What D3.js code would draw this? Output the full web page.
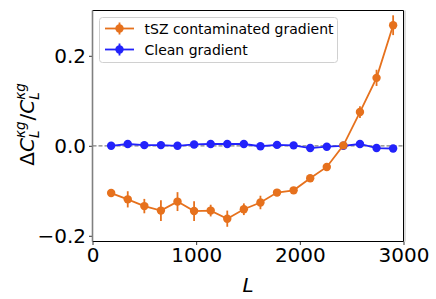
<!DOCTYPE html>
<html>
<head>
<meta charset="utf-8">
<script src="https://cdn.jsdelivr.net/npm/d3@7"></script>
<style>
  body { margin: 0; background: #fff; }
  svg { font-family: "DejaVu Sans", sans-serif; }
</style>
</head>
<body>
<svg id="chart" width="436" height="299"></svg>
<script>
// multipole bins
const ells = [180, 340, 500, 660, 820, 980, 1140, 1300, 1460, 1620, 1780, 1940, 2100, 2260, 2420, 2580, 2740, 2900];

// tSZ contaminated gradient
const tszVals = [-0.105, -0.119, -0.134, -0.144, -0.124, -0.145, -0.144, -0.162, -0.141, -0.126, -0.104, -0.099, -0.072, -0.047, 0.001, 0.075, 0.151, 0.268];
const tszErrs = [0.008, 0.018, 0.016, 0.023, 0.021, 0.022, 0.013, 0.018, 0.013, 0.015, 0.005, 0.004, 0.004, 0.004, 0.005, 0.013, 0.018, 0.022];

// clean gradient
const cleanVals = [0.000, 0.004, 0.0015, 0.0015, 0.000, 0.003, 0.004, 0.004, 0.004, -0.001, 0.002, 0.001, -0.005, -0.002, 0.000, 0.004, -0.005, -0.006];
const cleanErrs = [0.003, 0.003, 0.003, 0.003, 0.003, 0.003, 0.003, 0.003, 0.003, 0.003, 0.003, 0.003, 0.003, 0.003, 0.003, 0.003, 0.003, 0.003];

const xTicks = [0, 1000, 2000, 3000];
const yTicks = [-0.2, 0.0, 0.2];

const seriesNames = ["tSZ contaminated gradient", "Clean gradient"];

(function() {
    const orange = "#e6711d", blue = "#2222fb";

    const svg = d3.select("#chart");
    const pl = 92.5, pr = 403.5, pt = 10.5, pb = 241.5;

    const x = d3.scaleLinear().domain([0, 3000]).range([pl, pr]);
    const y = d3.scaleLinear().domain([-0.2127, 0.3007]).range([pb, pt]);

    // zero reference line
    svg.append("line")
        .attr("x1", pl).attr("x2", pr)
        .attr("y1", y(0)).attr("y2", y(0))
        .attr("stroke", "#808080").attr("stroke-width", 1.2)
        .attr("stroke-dasharray", "4,2");

    function drawSeries(vals, errs, color) {
        const g = svg.append("g");
        const pts = ells.map((l, i) => ({ l: l, v: vals[i], e: errs[i] }));
        g.selectAll("line.err")
            .data(pts)
            .join("line")
            .attr("class", "err")
            .attr("x1", d => x(d.l)).attr("x2", d => x(d.l))
            .attr("y1", d => y(d.v - d.e)).attr("y2", d => y(d.v + d.e))
            .attr("stroke", color).attr("stroke-width", 1.8);
        g.append("path")
            .datum(pts)
            .attr("fill", "none")
            .attr("stroke", color)
            .attr("stroke-width", 1.8)
            .attr("d", d3.line().x(d => x(d.l)).y(d => y(d.v)));
        g.selectAll("circle")
            .data(pts)
            .join("circle")
            .attr("cx", d => x(d.l)).attr("cy", d => y(d.v))
            .attr("r", 4.2)
            .attr("fill", color);
    }

    drawSeries(cleanVals, cleanErrs, blue);
    drawSeries(tszVals, tszErrs, orange);

    // axes
    const xAxis = svg.append("g")
        .attr("transform", `translate(0,${pb})`)
        .call(d3.axisBottom(x).tickValues(xTicks).tickFormat(d3.format("d")).tickSize(3.5).tickPadding(3));
    const yAxis = svg.append("g")
        .attr("transform", `translate(${pl},0)`)
        .call(d3.axisLeft(y).tickValues(yTicks).tickFormat(d3.format(".1f")).tickSize(3.5).tickPadding(3));
    [xAxis, yAxis].forEach(a => {
        a.select(".domain").remove();
        a.selectAll("text").attr("font-size", 20).attr("font-family", "DejaVu Sans").attr("fill", "#000");
        a.selectAll("line").attr("stroke", "#000").attr("stroke-width", 0.8);
    });

    // frame
    svg.append("line").attr("x1", pl).attr("x2", pr).attr("y1", pt).attr("y2", pt).attr("stroke", "#000").attr("stroke-width", 1);
    svg.append("line").attr("x1", pl).attr("x2", pr).attr("y1", pb).attr("y2", pb).attr("stroke", "#000").attr("stroke-width", 1);
    svg.append("line").attr("x1", pr).attr("x2", pr).attr("y1", pt).attr("y2", pb).attr("stroke", "#000").attr("stroke-width", 1);
    svg.append("line").attr("x1", pr + 1.5).attr("x2", pr + 1.5).attr("y1", pt).attr("y2", pb).attr("stroke", "#bbb").attr("stroke-width", 1);
    svg.append("line").attr("x1", pl).attr("x2", pl).attr("y1", pt).attr("y2", pb).attr("stroke", "#808080").attr("stroke-width", 1.6);

    // x label
    svg.append("text")
        .attr("x", x(1500)).attr("y", 292)
        .attr("text-anchor", "middle")
        .attr("font-size", 20).attr("font-style", "italic")
        .text("L");

    // y label built from pieces (mathtext-like)
    const yl = svg.append("g").attr("transform", "translate(34,124) rotate(-90)");
    const parts = [];
    function piece(txt, size, italic, dy, stack) {
        parts.push({ txt, size, italic, dy, stack });
    }
    piece("Δ", 20, false, 0);
    piece("C", 20, true, 0);
    piece("κg", 13.5, true, -9);
    piece("L", 13.5, true, 5, true);
    piece("/", 20, false, 0);
    piece("C", 20, true, 0);
    piece("κg", 13.5, true, -9);
    piece("L", 13.5, true, 5, true);
    let cx = 0, lastStart = 0, lastW = 0;
    const els = [];
    parts.forEach(p => {
        const t = yl.append("text")
            .attr("font-size", p.size)
            .attr("font-style", p.italic ? "italic" : "normal")
            .attr("y", p.dy)
            .text(p.txt);
        const w = t.node().getComputedTextLength();
        if (p.stack) {
            t.attr("x", lastStart);
            cx = Math.max(lastStart + lastW, lastStart + w) + 1;
        } else {
            t.attr("x", cx);
            lastStart = cx; lastW = w;
            cx += w + (p.size < 20 ? 1 : 0);
        }
        els.push(t);
    });
    els.forEach(t => t.attr("x", +t.attr("x") - cx / 2));

    // legend
    const lg = svg.append("g");
    lg.append("rect")
        .attr("x", 99.5).attr("y", 17.5).attr("width", 238).attr("height", 45)
        .attr("rx", 3).attr("fill", "#fff").attr("fill-opacity", 0.8)
        .attr("stroke", "#d0d0d0").attr("stroke-width", 1);
    const legColors = [orange, blue];
    seriesNames.forEach((name, i) => {
        const ly = 28.5 + i * 21;
        lg.append("line").attr("x1", 105).attr("x2", 134).attr("y1", ly).attr("y2", ly)
            .attr("stroke", legColors[i]).attr("stroke-width", 1.8);
        lg.append("line").attr("x1", 119.5).attr("x2", 119.5).attr("y1", ly - 6).attr("y2", ly + 6)
            .attr("stroke", legColors[i]).attr("stroke-width", 1.8);
        lg.append("circle").attr("cx", 119.5).attr("cy", ly).attr("r", 4.2).attr("fill", legColors[i]);
        lg.append("text").attr("x", 144.5).attr("y", ly + 5)
            .attr("font-size", 14).text(name);
    });
})();
</script>
</body>
</html>
